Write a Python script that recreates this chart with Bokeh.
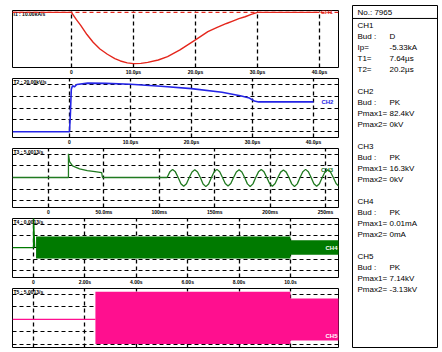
from bokeh.plotting import figure
from bokeh.models import Range1d, FixedTicker, Grid, Span, Label
from bokeh.layouts import row, column
from bokeh.embed import file_html
from bokeh.resources import INLINE
from bokeh.core.properties import value

# ---------------- data ----------------
# CH1 : current (kA) vs time (us)
ch1_t = [-9.5, 0.0, 0.8, 1.5, 2.5, 3.5, 4.6, 5.8, 7.0, 7.9, 9.0, 10.0, 11.2, 12.3, 14.0,
         15.5, 17.5, 20.0, 22.0, 23.5, 25.0, 26.0, 27.0, 28.0, 29.0, 30.0, 40.0]
ch1_v = [0, 0, -0.75, -1.35, -2.3, -3.1, -3.8, -4.35, -4.8, -5.05, -5.25, -5.33, -5.3, -5.2, -4.95,
         -4.6, -3.9, -2.85, -2.0, -1.55, -1.15, -0.9, -0.65, -0.45, -0.2, 0, 0]
ch1_ticks = [0, 10, 20, 30, 40]
ch1_labels = ["0", "10.0µs", "20.0µs", "30.0µs", "40.0µs"]

# CH2 : voltage (kV) vs time (us)
ch2_t = [-9.3, 0.0, 0.15, 0.3, 0.5, 0.8, 1.2, 3.0, 6.0, 10.0, 15.0, 20.0, 25.0, 28.0, 29.5, 30.3, 31.0, 40.0]
ch2_v = [0, 0, 30, 72, 78, 76, 80, 82.4, 82, 80.5, 77, 73, 67, 61, 57, 52, 50.5, 50.5]
ch2_ticks = [0, 10, 20, 30, 40]
ch2_labels = ["0", "10.0µs", "20.0µs", "30.0µs", "40.0µs"]
ch2_grid = [0, 20, 40, 60, 80]

# CH3 : voltage (kV) vs time (ms)
ch3_t = [-32.5, 18.0, 18.0, 19.0, 21.7, 28.0, 35.0, 42.0, 48.0, 48.7,
         107.0, 109.5, 112.0, 114.5, 117.0, 119.5, 122.0, 124.5, 127.0, 129.5, 132.0, 134.5,
         137.0, 139.5, 142.0, 144.5, 147.0, 149.5, 152.0, 154.5, 157.0, 159.5, 162.0, 164.5,
         167.0, 169.5, 172.0, 174.5, 177.0, 179.5, 182.0, 184.5, 187.0, 189.5, 192.0, 194.5,
         197.0, 199.5, 202.0, 204.5, 207.0, 209.5, 212.0, 214.5, 217.0, 219.5, 222.0, 224.5,
         227.0, 229.5, 232.0, 234.5, 237.0, 239.5, 242.0, 244.5, 247.0, 249.5, 252.0, 254.5,
         257.0, 259.5, 262.0]
ch3_v = [0, 0, 16.3, 11.0, 8.0, 6.0, 4.8, 4.0, 3.3, 0,
         0, 3.9, 5.5, 3.9, 0, -4.3, -6.1, -4.3,
         0, 3.8, 5.3, 3.8, 0, -4.5, -6.3, -4.5,
         0, 4.0, 5.6, 4.0, 0, -4.2, -5.9, -4.2,
         0, 3.8, 5.4, 3.8, 0, -4.4, -6.2, -4.4,
         0, 3.9, 5.5, 3.9, 0, -4.2, -6.0, -4.2,
         0, 3.7, 5.2, 3.7, 0, -4.4, -6.2, -4.4,
         0, 4.0, 5.6, 4.0, 0, -4.3, -6.1, -4.3,
         0, 3.8, 5.4, 3.8, 0, -4.2, -6.0]
ch3_ticks = [0, 50, 100, 150, 200, 250]
ch3_labels = ["0", "50.0ms", "100ms", "150ms", "200ms", "250ms"]
ch3_grid = [-16, -8, 0, 8, 16]

# CH4 : current (uA) vs time (s)
ch4_t = [-0.82, 0.0, 0.0, 0.05]
ch4_v = [0, 0, 26, 0]
ch4_band_t = [0.1, 10.0, 10.0, 11.9]
ch4_band_hi = [9.5, 9.5, 6.3, 6.3]
ch4_band_lo = [-9.5, -9.5, -6.3, -6.3]
ch4_ticks = [0, 2, 4, 6, 8, 10]
ch4_labels = ["0", "2.00s", "4.00s", "6.00s", "8.00s", "10.0s"]
ch4_grid = [-20, -10, 0, 10, 20]

# CH5 : voltage (kV) vs time (s)
ch5_t = [-0.82, 2.41]
ch5_v = [0, 0]
ch5_band_t = [2.41, 10.0, 10.0, 11.9]
ch5_band_hi = [7.14, 7.14, 5.4, 5.4]
ch5_band_lo = [-6.3, -6.3, -5.4, -5.4]
ch5_ticks = [0, 2, 4, 6, 8, 10]
ch5_grid = [-6.4, -3.2, 0, 3.2, 6.4]

headers = ["I1 : 10.00kA/s", "T2 : 20.00kV/s", "T3 : 5.0013/s", "T4 : 0.0013/s", "T5 : 5.0013/s"]
channel_names = ["CH1", "CH2", "CH3", "CH4", "CH5"]

# info panel
info_no = "No.: 7965"
info_names = [["Bud :", "Ip=", "T1=", "T2="],
              ["Bud :", "Pmax1=", "Pmax2="],
              ["Bud :", "Pmax1=", "Pmax2="],
              ["Bud :", "Pmax1=", "Pmax2="],
              ["Bud :", "Pmax1=", "Pmax2="]]
info_values = [["D", "-5.33kA", "7.64µs", "20.2µs"],
               ["PK", "82.4kV", "0kV"],
               ["PK", "16.3kV", "0kV"],
               ["PK", "0.01mA", "0mA"],
               ["PK", "7.14kV", "-3.13kV"]]

RED = "#e4261c"
BLUE = "#2424e6"
GREEN3 = "#207a20"
GREEN4 = "#007a00"
PINK = "#ff0f8f"
FONT = "Liberation Sans"


def panel(h, xr, yr, xticks, xlabels, yticks, top, bottom, header):
    p = figure(width=346, height=h, x_range=Range1d(*xr), y_range=Range1d(*yr),
               output_backend="svg", toolbar_location=None,
               x_axis_location="below" if xlabels else None, y_axis_location=None,
               min_border_left=12, min_border_right=8, min_border_top=top,
               min_border_bottom=bottom)
    p.xgrid.visible = False
    p.ygrid.visible = False
    p.outline_line_color = "black"
    p.outline_line_width = 1
    p.outline_line_alpha = 1
    p.background_fill_color = "white"
    p.border_fill_color = "white"
    p.add_layout(Grid(dimension=0, ticker=FixedTicker(ticks=xticks), grid_line_color="black",
                      grid_line_dash="4 3", grid_line_width=1.3))
    if yticks:
        p.add_layout(Grid(dimension=1, ticker=FixedTicker(ticks=yticks), grid_line_color="black",
                          grid_line_dash="4 3", grid_line_width=1.2))
    if xlabels:
        ax = p.xaxis[0]
        ax.ticker = FixedTicker(ticks=xticks)
        ax.major_label_overrides = dict(zip(xticks, xlabels))
        ax.axis_line_color = None
        ax.major_tick_line_color = None
        ax.minor_tick_line_color = None
        ax.major_tick_in = 0
        ax.major_tick_out = 0
        ax.major_label_standoff = 1
        ax.major_label_text_font_size = "5px"
        ax.major_label_text_font_style = "bold"
        ax.major_label_text_font = FONT
        ax.major_label_text_color = "black"
    p.add_layout(Label(x=xr[0], y=yr[1], x_offset=1, y_offset=0, text=header,
                       text_font=FONT, text_font_size="5px", text_font_style="bold",
                       text_baseline="top", text_color="black"))
    return p


def ch_label(p, x, y, text, color, boxed=False):
    if boxed:
        p.add_layout(Label(x=x, y=y, x_offset=-1, text=text, text_font=FONT,
                           text_font_size="6px", text_font_style="bold", text_color="white",
                           text_align="right", text_baseline="middle",
                           background_fill_color=color))
    else:
        p.add_layout(Label(x=x, y=y, text=text, text_font=FONT, text_font_size="6px",
                           text_font_style="bold", text_color=color, text_baseline="middle"))


# Panel 1
p1 = panel(77, (-9.5, 43.06), (-5.73, 0.2), ch1_ticks, ch1_labels, None, 10, 8, headers[0])
p1.add_layout(Span(location=0, dimension="width", line_color=RED, line_dash="4 3", line_width=1.2))
p1.line(ch1_t, ch1_v, line_color=RED, line_width=1.4)
ch_label(p1, 40.2, 0, channel_names[0], RED)

# Panel 2
p2 = panel(70, (-9.34, 44.1), (-9.8, 90.2), ch2_ticks, ch2_labels, ch2_grid, 1, 8, headers[1])
p2.line(ch2_t, ch2_v, line_color=BLUE, line_width=1.6)
ch_label(p2, 41.3, 50.5, channel_names[1], BLUE)

# Panel 3
p3 = panel(70, (-32.5, 261.7), (-20.7, 20.0), ch3_ticks, ch3_labels, ch3_grid, 1, 8, headers[2])
p3.line(ch3_t, ch3_v, line_color=GREEN3, line_width=1.3)
ch_label(p3, 246, 5.3, channel_names[2], GREEN3)

# Panel 4
p4 = panel(70, (-0.817, 11.87), (-25.8, 25.0), ch4_ticks, ch4_labels, ch4_grid, 1, 8, headers[3])
p4.varea(x=ch4_band_t, y1=ch4_band_lo, y2=ch4_band_hi, fill_color=GREEN4)
p4.line(ch4_t, ch4_v, line_color=GREEN4, line_width=1.2)
ch_label(p4, 11.87, 0, channel_names[3], GREEN4, boxed=True)

# Panel 5
p5 = panel(65, (-0.817, 11.87), (-7.2, 7.95), ch5_ticks, None, ch5_grid, 1, 5, headers[4])
p5.varea(x=ch5_band_t, y1=ch5_band_lo, y2=ch5_band_hi, fill_color=PINK)
p5.line(ch5_t, ch5_v, line_color=PINK, line_width=1.2)
ch_label(p5, 11.87, -4.2, channel_names[4], PINK, boxed=True)

# Info panel
pi = figure(width=96, height=352, x_range=Range1d(0, 85), y_range=Range1d(30.27, -0.818),
            output_backend="svg", toolbar_location=None, x_axis_location=None,
            y_axis_location=None, min_border_left=6, min_border_right=5,
            min_border_top=5, min_border_bottom=5)
pi.xgrid.visible = False
pi.ygrid.visible = False
pi.outline_line_color = "black"
pi.outline_line_width = 1
pi.outline_line_alpha = 1

xs, ys, txt = [5], [-0.2], [info_no]
r = 1
for name, names, vals in zip(channel_names, info_names, info_values):
    xs.append(5); ys.append(r); txt.append(name)
    r += 1
    for n, v in zip(names, vals):
        xs.extend([5, 37]); ys.extend([r, r]); txt.extend([n, v])
        r += 1
    r += 1
pi.text(x=xs, y=ys, text=txt, text_font=value(FONT), text_font_size="8px",
        text_baseline="middle", text_align="left", text_color="black")
pi.add_layout(Span(location=0.36, dimension="width", line_color="black", line_width=1))

layout = row(column(p1, p2, p3, p4, p5), pi)
open("out.html", "w").write(file_html(layout, INLINE))
